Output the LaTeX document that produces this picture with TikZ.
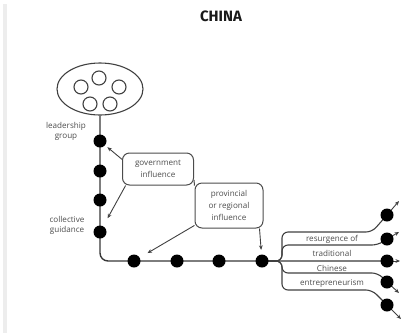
\documentclass[tikz,border=0pt]{standalone}
\usepackage{fontspec}
\setmainfont{Open Sans}
\newfontfamily\titlefont{Fira Sans}
\usetikzlibrary{arrows.meta,shapes.geometric,backgrounds}
\begin{document}
\begin{tikzpicture}[x=1pt,y=-1pt,
  ln/.style={draw=black!78, line width=1.4pt},
  bl/.style={draw=black!75, line width=1.1pt, rounded corners=6pt},
  dot/.style={circle, fill=black, inner sep=0pt, minimum size=13pt},
  ring/.style={circle, draw=black!75, line width=1.1pt, inner sep=0pt, minimum size=14pt},
  lbl/.style={font=\fontsize{8.1}{9.8}\selectfont, text=black!70, align=center, inner sep=0pt},
  infobox/.style={draw=black!70, line width=1pt, rounded corners=7pt, inner sep=0pt,
    font=\fontsize{8.1}{11.8}\selectfont, text=black!70, align=center},
  arr/.style={draw=black!75, line width=0.9pt, -{Stealth[length=4.5pt,width=3.8pt]}}]
\useasboundingbox (0,0) rectangle (401,333);
\fill[black!7] (3,4) rectangle (7,333);
\node[font=\titlefont\bfseries\fontsize{15}{15}\selectfont, text=black!90] (title) at (221,16) {CHINA};
% leadership ellipse
\node[ellipse, draw=black!75, line width=1.1pt, minimum width=86pt, minimum height=52pt] (lead) at (100,89) {};
\node[ring] (c1) at (99,78) {};
\node[ring] (c2) at (81,87) {};
\node[ring] (c3) at (119,87) {};
\node[ring] (c4) at (90,104) {};
\node[ring] (c5) at (110,104) {};
% dots
\node[dot] (v1) at (100,141) {};
\node[dot] (v2) at (100,171) {};
\node[dot] (v3) at (100,200) {};
\node[dot] (v4) at (100,232) {};
\coordinate (corner) at (100,261);
\node[dot] (h1) at (134,261) {};
\node[dot] (h2) at (177,261) {};
\node[dot] (h3) at (219,261) {};
\node[dot] (h4) at (262,261) {};
\node[dot] (r1) at (387,215) {};
\node[dot] (r2) at (387,239) {};
\node[dot] (r3) at (387,261) {};
\node[dot] (r4) at (387,282) {};
\node[dot] (r5) at (387,305) {};
% labels
\node[lbl] (lg) at (66,131) {leadership\\group};
\node[lbl] (cg) at (67,225) {collective\\guidance};
\node[infobox, minimum width=71pt, minimum height=32pt] (govt) at (158,169) {government\\influence};
\node[infobox, minimum width=68pt, minimum height=45pt] (prov) at (229,205.5) {provincial\\or regional\\influence};
\node[lbl] (t1) at (332,239) {resurgence of};
\node[lbl] (t2) at (332,253) {traditional};
\node[lbl] (t3) at (332,268) {Chinese};
\node[lbl] (t4) at (332,283) {entrepreneurism};
% right-end arrows
\coordinate (e1) at (399,201);
\coordinate (e2) at (399,232);
\coordinate (e3) at (400,261);
\coordinate (e4) at (399,293);
\coordinate (e5) at (401,319);
\begin{scope}[on background layer]
  \draw[ln, rounded corners=8pt] (lead.south) -- (corner) -- (r3.center);
  \draw[bl] (h4.center) -| (282,232) -- (372,232) -- (r1.center);
  \draw[bl] (h4.center) -| (282,245) -- (378,245) -- (r2.center);
  \draw[bl] (h4.center) -| (282,273) -- (378,273) -- (r4.center);
  \draw[bl] (h4.center) -| (282,290) -- (372,290) -- (r5.center);
  \draw[arr] (r1.center) -- (e1);
  \draw[arr] (r2.center) -- (e2);
  \draw[arr] (r3.center) -- (e3);
  \draw[arr] (r4.center) -- (e4);
  \draw[arr] (r5.center) -- (e5);
\end{scope}
% influence arrows
\draw[draw=black!70, line width=1pt] (govt.-17) -- (prov.150);
\draw[arr, shorten >=3pt] (govt.165) -- (v1);
\draw[arr, shorten >=9pt] (govt.207) -- (v4);
\draw[arr, shorten >=9pt] (prov.210) -- (h1);
\draw[arr, shorten >=4.5pt] ([xshift=-4pt]prov.south east) -- (h4);
\end{tikzpicture}
\end{document}
